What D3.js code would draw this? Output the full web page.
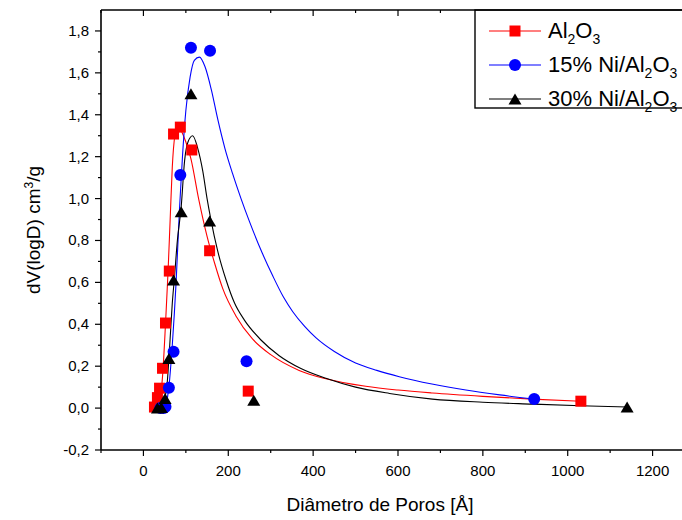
<!DOCTYPE html>
<html><head><meta charset="utf-8">
<script src="https://cdn.jsdelivr.net/npm/d3@7"></script>
<style>
html,body{margin:0;padding:0;background:#fff;}
svg{display:block;font-family:"Liberation Sans",Arial,sans-serif;}
</style></head>
<body>
<svg id="chart" width="682" height="520"></svg>
<script>
// ---- data ----
const seriesNames = ["Al2O3", "15% Ni/Al2O3", "30% Ni/Al2O3"];
const al2o3X = [26, 33, 38, 45, 52, 61, 71, 87, 114, 156, 247, 1031];
const al2o3Y = [0.005, 0.05, 0.095, 0.19, 0.406, 0.654, 1.308, 1.341, 1.232, 0.751, 0.081, 0.033];
const ni15X = [40, 48, 52, 60, 71, 87, 112, 157, 243, 921];
const ni15Y = [0.0, 0.0, 0.006, 0.097, 0.269, 1.112, 1.72, 1.706, 0.224, 0.043];
const ni30X = [33, 42, 51, 60, 71, 89, 112, 156, 260, 1140];
const ni30Y = [0.0, 0.003, 0.046, 0.237, 0.611, 0.937, 1.50, 0.893, 0.038, 0.005];
// fitted curves
const al2o3FitX = [30, 38, 45, 52, 58, 63, 68, 74, 81, 90, 100, 112, 130, 150, 168, 187, 218, 257, 300, 367, 430, 524, 600, 681, 800, 916, 1031];
const al2o3FitY = [0.0, 0.03, 0.15, 0.40, 0.65, 0.9, 1.15, 1.3, 1.35, 1.32, 1.27, 1.19, 1.0, 0.82, 0.69, 0.57, 0.44, 0.33, 0.255, 0.18, 0.14, 0.104, 0.086, 0.072, 0.056, 0.043, 0.033];
const ni15FitX = [52, 60, 68, 77, 85, 92, 100, 110, 120, 132, 145, 160, 175, 192, 210, 230, 250, 280, 305, 330, 352, 380, 407, 450, 500, 550, 603, 680, 760, 840, 921];
const ni15FitY = [0.0, 0.1, 0.3, 0.6, 0.95, 1.2, 1.42, 1.58, 1.66, 1.675, 1.63, 1.52, 1.38, 1.24, 1.12, 1.0, 0.89, 0.74, 0.63, 0.53, 0.46, 0.39, 0.335, 0.27, 0.215, 0.18, 0.15, 0.115, 0.086, 0.063, 0.043];
const ni30FitX = [35, 45, 55, 62, 68, 73, 80, 89, 97, 105, 116, 128, 140, 150, 159, 175, 195, 215, 238, 277, 320, 370, 430, 500, 580, 681, 800, 916, 1030, 1140];
const ni30FitY = [0.0, 0.02, 0.1, 0.3, 0.5, 0.62, 0.8, 0.96, 1.18, 1.27, 1.30, 1.24, 1.13, 1.0, 0.9, 0.75, 0.61, 0.5, 0.42, 0.325, 0.25, 0.19, 0.142, 0.1, 0.07, 0.043, 0.028, 0.019, 0.011, 0.005];
const xTicks = [0, 200, 400, 600, 800, 1000, 1200];
const xTickLabels = ["0", "200", "400", "600", "800", "1000", "1200"];
const yTicks = [-0.2, 0.0, 0.2, 0.4, 0.6, 0.8, 1.0, 1.2, 1.4, 1.6, 1.8];
const yTickLabels = ["-0,2", "0,0", "0,2", "0,4", "0,6", "0,8", "1,0", "1,2", "1,4", "1,6", "1,8"];
const colors = ["#ff0000", "#0000ff", "#000000"];

// ---- chart ----
const svg = d3.select("#chart");
const x = d3.scaleLinear().domain([-100, 1300]).range([101, 695]);
const y = d3.scaleLinear().domain([-0.2, 1.9]).range([450, 10]);

const series = [
  {name: seriesNames[0], px: al2o3X, py: al2o3Y, fx: al2o3FitX, fy: al2o3FitY, color: colors[0], sym: "square"},
  {name: seriesNames[1], px: ni15X, py: ni15Y, fx: ni15FitX, fy: ni15FitY, color: colors[1], sym: "circle"},
  {name: seriesNames[2], px: ni30X, py: ni30Y, fx: ni30FitX, fy: ni30FitY, color: colors[2], sym: "triangle"}
];

svg.append("clipPath").attr("id", "clip").append("rect")
  .attr("x", 101).attr("y", 10).attr("width", 600).attr("height", 440);

const line = d3.line().x(d => x(d[0])).y(d => y(d[1])).curve(d3.curveMonotoneX);
const gCurves = svg.append("g").attr("clip-path", "url(#clip)");
series.forEach(s => {
  gCurves.append("path")
    .attr("d", line(s.fx.map((v, i) => [v, s.fy[i]])))
    .attr("fill", "none").attr("stroke", s.color).attr("stroke-width", 1.1);
});

function marker(g, sym, cx, cy, color) {
  if (sym === "square") {
    g.append("rect").attr("x", cx - 5.5).attr("y", cy - 5.5).attr("width", 11).attr("height", 11).attr("fill", color);
  } else if (sym === "circle") {
    g.append("circle").attr("cx", cx).attr("cy", cy).attr("r", 6).attr("fill", color);
  } else {
    const h = 11, w = 13;
    g.append("path").attr("d", `M${cx},${cy - h / 2}L${cx + w / 2},${cy + h / 2}L${cx - w / 2},${cy + h / 2}Z`).attr("fill", color);
  }
}
const gPts = svg.append("g");
series.forEach(s => {
  s.px.forEach((v, i) => marker(gPts, s.sym, x(v), y(s.py[i]), s.color));
});

// axes
const axisG = svg.append("g").attr("stroke", "#000").attr("fill", "none");
axisG.append("line").attr("x1", 101).attr("x2", 682).attr("y1", 450).attr("y2", 450).attr("stroke-width", 1.6);
axisG.append("line").attr("x1", 101).attr("x2", 101).attr("y1", 10).attr("y2", 450).attr("stroke-width", 1.6);

const xMinor = d3.range(-100, 1301, 100);
xMinor.forEach(v => {
  const major = xTicks.includes(v);
  const len = major ? 6 : 3;
  axisG.append("line").attr("x1", x(v)).attr("x2", x(v)).attr("y1", 450).attr("y2", 450 + len).attr("stroke-width", 1.2);
  axisG.append("line").attr("x1", x(v)).attr("x2", x(v)).attr("y1", 10).attr("y2", 10 + len).attr("stroke-width", 1.2);
});
const yMinor = d3.range(-2, 19).map(k => k / 10);
yMinor.forEach(v => {
  const major = yTicks.some(t => Math.abs(t - v) < 1e-9);
  const len = major ? 6 : 3;
  axisG.append("line").attr("x1", 101 - len).attr("x2", 101).attr("y1", y(v)).attr("y2", y(v)).attr("stroke-width", 1.2);
});

const txt = svg.append("g").attr("fill", "#000").attr("font-size", 15);
xTicks.forEach((v, i) => {
  txt.append("text").attr("x", x(v)).attr("y", 476).attr("text-anchor", "middle").text(xTickLabels[i]);
});
yTicks.forEach((v, i) => {
  txt.append("text").attr("x", 89).attr("y", y(v) + 5).attr("text-anchor", "end").text(yTickLabels[i]);
});

// axis titles
svg.append("text").attr("x", 380).attr("y", 511).attr("text-anchor", "middle").attr("font-size", 19)
  .text("Diâmetro de Poros [Å]");
const yt = svg.append("text").attr("transform", "translate(40,230) rotate(-90)").attr("text-anchor", "middle").attr("font-size", 19);
yt.append("tspan").text("dV(logD) cm");
yt.append("tspan").attr("font-size", 12).attr("dy", -7).text("3");
yt.append("tspan").attr("dy", 7).text("/g");

// legend
const lg = svg.append("g");
lg.append("rect").attr("x", 475).attr("y", 10).attr("width", 230).attr("height", 98)
  .attr("fill", "#fff").attr("stroke", "#000").attr("stroke-width", 1.4);
const rowsY = [31, 65, 99];
series.forEach((s, i) => {
  const yy = rowsY[i];
  lg.append("line").attr("x1", 489).attr("x2", 541).attr("y1", yy).attr("y2", yy).attr("stroke", s.color).attr("stroke-width", 1.1);
  marker(lg, s.sym, 515, yy, s.color);
  const t = lg.append("text").attr("x", 548).attr("y", yy + 7).attr("font-size", 22).attr("fill", "#000");
  const parts = s.name.match(/^(.*Al)2O3$/);
  t.append("tspan").text(parts[1]);
  t.append("tspan").attr("font-size", 14).attr("dy", 6).text("2");
  t.append("tspan").attr("font-size", 22).attr("dy", -6).text("O");
  t.append("tspan").attr("font-size", 14).attr("dy", 6).text("3");
});
// top border over legend
svg.append("line").attr("x1", 101).attr("x2", 682).attr("y1", 10).attr("y2", 10).attr("stroke", "#000").attr("stroke-width", 1.6);
</script>
</body></html>
